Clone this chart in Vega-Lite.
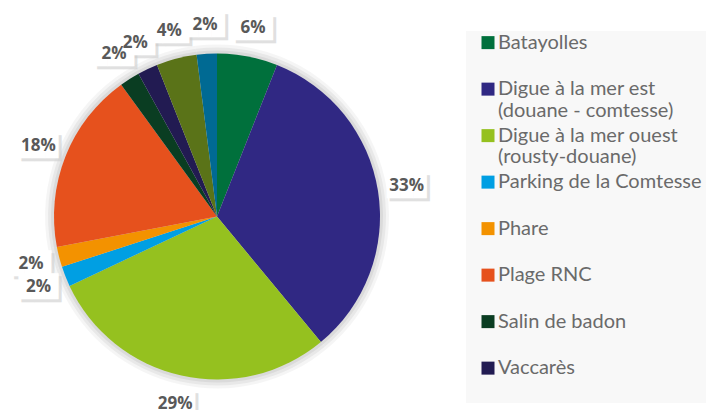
{
  "$schema": "https://vega.github.io/schema/vega-lite/v6.json",
  "padding": {"left": 0, "top": 13, "right": 0, "bottom": 0},
  "background": "white",
  "spacing": 32,
  "config": {"view": {"stroke": null}},
  "data": {
    "values": [
      {"site": "Batayolles", "share": 0.06, "order": 1},
      {"site": "Digue à la mer est (douane - comtesse)", "share": 0.33, "order": 2},
      {"site": "Digue à la mer ouest (rousty-douane)", "share": 0.29, "order": 3},
      {"site": "Parking de la Comtesse", "share": 0.02, "order": 4},
      {"site": "Phare", "share": 0.02, "order": 5},
      {"site": "Plage RNC", "share": 0.18, "order": 6},
      {"site": "Salin de badon", "share": 0.02, "order": 7},
      {"site": "Vaccarès", "share": 0.02, "order": 8},
      {"site": "Autres", "share": 0.04, "order": 9},
      {"site": "Non précisé", "share": 0.02, "order": 10}
    ]
  },
  "hconcat": [
    {
      "width": 434,
      "height": 371,
      "encoding": {
        "theta": {"field": "share", "type": "quantitative", "stack": true},
        "order": {"field": "order", "type": "quantitative", "sort": "ascending"},
        "color": {
          "field": "site",
          "type": "nominal",
          "legend": null,
          "scale": {
            "domain": ["Batayolles", "Digue à la mer est (douane - comtesse)", "Digue à la mer ouest (rousty-douane)", "Parking de la Comtesse", "Phare", "Plage RNC", "Salin de badon", "Vaccarès", "Autres", "Non précisé"],
            "range": ["#00703c", "#302883", "#95c11f", "#009fe3", "#f39200", "#e6511d", "#0a3d22", "#221b52", "#5a7318", "#006a93"]
          }
        }
      },
      "layer": [
        {"mark": {"type": "arc", "outerRadius": 172, "opacity": 0.04}, "encoding": {"color": {"value": "#000000"}}},
        {"mark": {"type": "arc", "outerRadius": 169, "opacity": 0.05}, "encoding": {"color": {"value": "#000000"}}},
        {"mark": {"type": "arc", "outerRadius": 166, "opacity": 0.06}, "encoding": {"color": {"value": "#000000"}}},
        {"mark": {"type": "arc", "outerRadius": 163}},
        {
          "mark": {"type": "text", "text": "███", "font": "DejaVu Sans Mono", "fontSize": 22, "baseline": "middle", "align": "center", "dx": 3, "dy": 3, "opacity": 0.6},
          "encoding": {"radius": {"value": 192}, "color": {"value": "#cccccc"}}
        },
        {
          "mark": {"type": "text", "text": "███", "font": "DejaVu Sans Mono", "fontSize": 22, "baseline": "middle", "align": "center"},
          "encoding": {"radius": {"value": 192}, "color": {"value": "#ffffff"}}
        },
        {
          "mark": {"type": "text", "font": "Open Sans", "fontWeight": "bold", "fontSize": 17, "baseline": "middle", "align": "center"},
          "encoding": {
            "radius": {"value": 192},
            "text": {"field": "share", "type": "quantitative", "format": ".0%"},
            "color": {"value": "#595959"}
          }
        }
      ]
    },
    {
      "width": 240,
      "height": 372,
      "view": {"fill": "#f8f8f8", "stroke": null},
      "transform": [{"filter": "datum.order <= 8"}],
      "encoding": {
        "y": {
          "field": "site",
          "type": "nominal",
          "axis": null,
          "bandPosition": 0.25,
          "scale": {
            "type": "band",
            "paddingInner": 0,
            "paddingOuter": 0,
            "domain": ["Batayolles", "Digue à la mer est (douane - comtesse)", "Digue à la mer ouest (rousty-douane)", "Parking de la Comtesse", "Phare", "Plage RNC", "Salin de badon", "Vaccarès"]
          }
        }
      },
      "layer": [
        {
          "mark": {"type": "point", "shape": "square", "filled": true, "size": 169, "opacity": 1},
          "encoding": {
            "x": {"value": 22},
            "color": {
              "field": "site",
              "type": "nominal",
              "legend": null,
              "scale": {
                "domain": ["Batayolles", "Digue à la mer est (douane - comtesse)", "Digue à la mer ouest (rousty-douane)", "Parking de la Comtesse", "Phare", "Plage RNC", "Salin de badon", "Vaccarès", "Autres", "Non précisé"],
                "range": ["#00703c", "#302883", "#95c11f", "#009fe3", "#f39200", "#e6511d", "#0a3d22", "#221b52", "#5a7318", "#006a93"]
              }
            }
          }
        },
        {
          "mark": {"type": "text", "font": "Lato", "fontSize": 20, "align": "left", "baseline": "line-top", "lineHeight": 21.5, "dy": -10.75, "lineBreak": {"expr": "regexp(' (?=\\\\()')"}, "color": "#6a6a6a"},
          "encoding": {
            "x": {"value": 32},
            "text": {"field": "site", "type": "nominal"}
          }
        }
      ]
    }
  ]
}
